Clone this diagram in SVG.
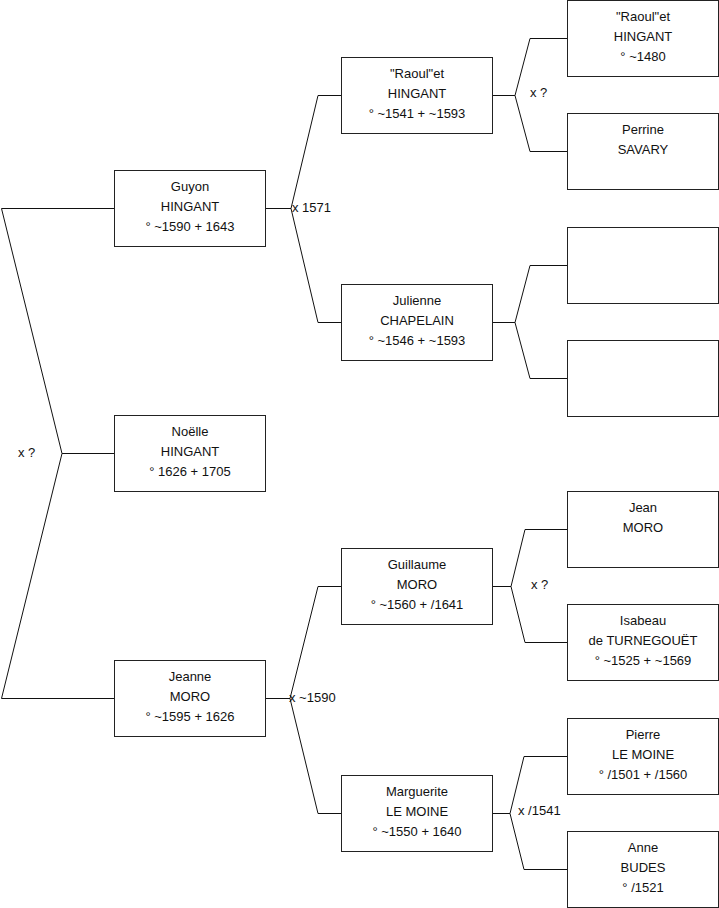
<svg xmlns="http://www.w3.org/2000/svg" width="719" height="908" viewBox="0 0 719 908">
<style>
.box{fill:#fff;stroke:#222;stroke-width:1}
.c{fill:none;stroke:#111;stroke-width:1}
text{font-family:"Liberation Sans",Arial,sans-serif;font-size:13px;fill:#111}
.t{text-anchor:middle}
</style>
<rect width="719" height="908" fill="#fff"/>
<g id="connectors">
<path class="c" d="M1.5,208.5H114M1.5,208.5L62,453.5L1.5,698.5M62,453.5H114M1.5,698.5H114"/>
<path class="c" d="M265.5,208.5H291M318,95.5L291,208.5L318,322.5M318,95.5H341M318,322.5H341"/>
<path class="c" d="M265.5,698.5H290M318,586.5L290,698.5L318,813.5M318,586.5H341M318,813.5H341"/>
<path class="c" d="M492,95.5H515M530,38.5L515,95.5L530,151.5M530,38.5H567M530,151.5H567"/>
<path class="c" d="M492,322.5H515M530,265.5L515,322.5L530,378.5M530,265.5H567M530,378.5H567"/>
<path class="c" d="M492,586.5H511M525,529.5L511,586.5L525,642.5M525,529.5H567M525,642.5H567"/>
<path class="c" d="M492,813.5H510M524,756.5L510,813.5L524,869.5M524,756.5H567M524,869.5H567"/>
<text x="18" y="457">x ?</text>
<text x="292" y="212">x 1571</text>
<text x="289" y="702">x ~1590</text>
<text x="530" y="97">x ?</text>
<text x="531" y="589">x ?</text>
<text x="518" y="815">x /1541</text>
</g>
<g id="guyon"><rect class="box" x="114.5" y="170.5" width="151" height="76"/><text class="t" x="190" y="191">Guyon</text><text class="t" x="190" y="211">HINGANT</text><text class="t" x="190" y="231">° ~1590 + 1643</text></g>
<g id="noelle"><rect class="box" x="114.5" y="415.5" width="151" height="76"/><text class="t" x="190" y="436">Noëlle</text><text class="t" x="190" y="456">HINGANT</text><text class="t" x="190" y="476">° 1626 + 1705</text></g>
<g id="jeanne"><rect class="box" x="114.5" y="660.5" width="151" height="76"/><text class="t" x="190" y="681">Jeanne</text><text class="t" x="190" y="701">MORO</text><text class="t" x="190" y="721">° ~1595 + 1626</text></g>
<g id="raoul2"><rect class="box" x="341.5" y="57.5" width="151" height="76"/><text class="t" x="417" y="78">"Raoul"et</text><text class="t" x="417" y="98">HINGANT</text><text class="t" x="417" y="118">° ~1541 + ~1593</text></g>
<g id="julienne"><rect class="box" x="341.5" y="284.5" width="151" height="76"/><text class="t" x="417" y="305">Julienne</text><text class="t" x="417" y="325">CHAPELAIN</text><text class="t" x="417" y="345">° ~1546 + ~1593</text></g>
<g id="guillaume"><rect class="box" x="341.5" y="548.5" width="151" height="76"/><text class="t" x="417" y="569">Guillaume</text><text class="t" x="417" y="589">MORO</text><text class="t" x="417" y="609">° ~1560 + /1641</text></g>
<g id="marguerite"><rect class="box" x="341.5" y="775.5" width="151" height="76"/><text class="t" x="417" y="796">Marguerite</text><text class="t" x="417" y="816">LE MOINE</text><text class="t" x="417" y="836">° ~1550 + 1640</text></g>
<g id="raoul3"><rect class="box" x="567.5" y="0.5" width="151" height="76"/><text class="t" x="643" y="21">"Raoul"et</text><text class="t" x="643" y="41">HINGANT</text><text class="t" x="643" y="61">° ~1480</text></g>
<g id="perrine"><rect class="box" x="567.5" y="113.5" width="151" height="76"/><text class="t" x="643" y="134">Perrine</text><text class="t" x="643" y="154">SAVARY</text></g>
<g id="empty1"><rect class="box" x="567.5" y="227.5" width="151" height="76"/></g>
<g id="empty2"><rect class="box" x="567.5" y="340.5" width="151" height="76"/></g>
<g id="jean"><rect class="box" x="567.5" y="491.5" width="151" height="76"/><text class="t" x="643" y="512">Jean</text><text class="t" x="643" y="532">MORO</text></g>
<g id="isabeau"><rect class="box" x="567.5" y="604.5" width="151" height="76"/><text class="t" x="643" y="625">Isabeau</text><text class="t" x="643" y="645">de TURNEGOUËT</text><text class="t" x="643" y="665">° ~1525 + ~1569</text></g>
<g id="pierre"><rect class="box" x="567.5" y="718.5" width="151" height="76"/><text class="t" x="643" y="739">Pierre</text><text class="t" x="643" y="759">LE MOINE</text><text class="t" x="643" y="779">° /1501 + /1560</text></g>
<g id="anne"><rect class="box" x="567.5" y="831.5" width="151" height="76"/><text class="t" x="643" y="852">Anne</text><text class="t" x="643" y="872">BUDES</text><text class="t" x="643" y="892">° /1521</text></g>
</svg>
